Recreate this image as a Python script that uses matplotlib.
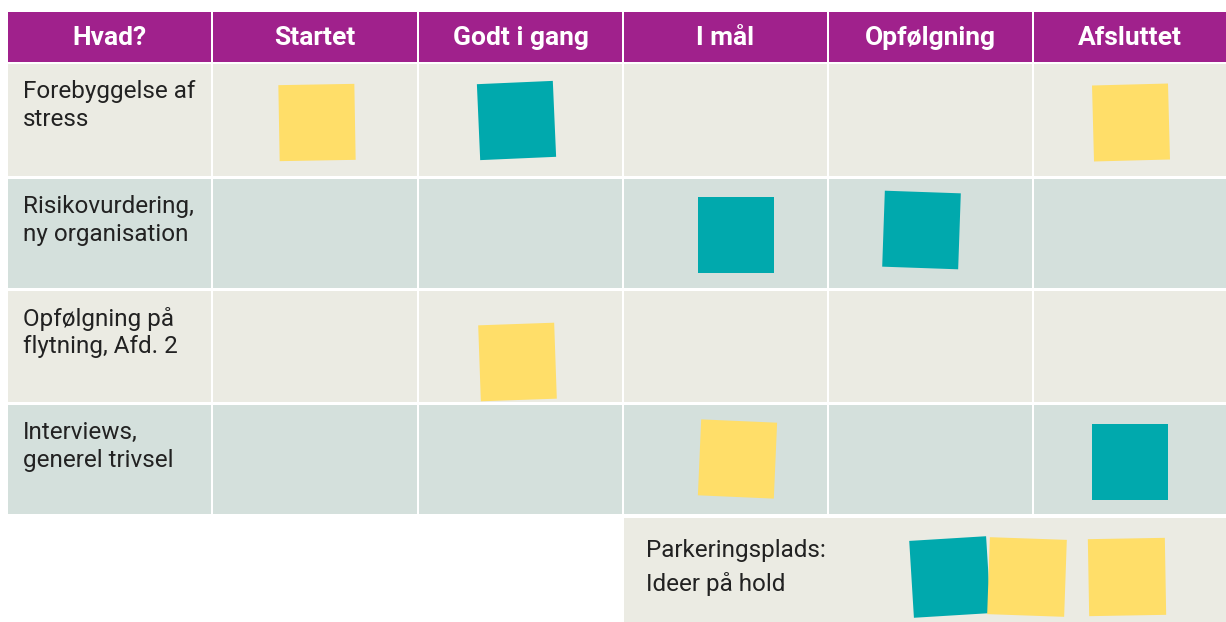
import matplotlib
matplotlib.use("Agg")
import matplotlib.pyplot as plt
from matplotlib.patches import Rectangle
import matplotlib.transforms as mtransforms

# table content
columns = ["Hvad?", "Startet", "Godt i gang", "I mål", "Opfølgning", "Afsluttet"]
tasks = ["Forebyggelse af\nstress", "Risikovurdering,\nny organisation",
         "Opfølgning på\nflytning, Afd. 2", "Interviews,\ngenerel trivsel"]
parking_label = "Parkeringsplads:\nIdeer på hold"

# notes: (row, column, colour); tilt >0 = clockwise on screen (y axis is flipped)
note_rows = [0, 0, 0, 1, 1, 2, 3, 3]
note_cols = [1, 2, 5, 3, 4, 2, 3, 5]
note_kind = ["y", "t", "y", "t", "t", "y", "y", "t"]
note_tilt = [-1, -2.5, -1.5, 0, 2, -2, 2.5, 0]
note_shift = [(2, 2), (-4, 0), (1, 2), (10, 1), (-9, -4), (-3, 15), (12, -1), (0, 2)]
parking_kind = ["t", "y", "y"]
parking_tilt = [-3.5, 2, -1]

PURPLE = "#a0218c"
LIGHT = "#ebebe3"
GREEN = "#d4e0dc"
TEAL = "#00a9ad"
YELLOW = "#ffde69"
colors = {"t": TEAL, "y": YELLOW}

fig = plt.figure(figsize=(12.26, 6.22), dpi=100)
ax = fig.add_axes([0, 0, 1, 1])
ax.set_xlim(0, 1226)
ax.set_ylim(622, 0)
ax.axis("off")

col_x = [8, 213, 419, 624, 829, 1034, 1228]
row_y = [64, 179, 291, 405, 517]
head_top, head_bot = 12, 62
gap = 2

# header
for i, name in enumerate(columns):
    x0, x1 = col_x[i], col_x[i + 1] - gap
    ax.add_patch(Rectangle((x0, head_top), x1 - x0, head_bot - head_top, color=PURPLE, lw=0))
    ax.text((x0 + x1) / 2, (head_top + head_bot) / 2 + 1, name, color="white",
            fontsize=19, fontweight="bold", family="Roboto", ha="center", va="center")

# body rows
for r, task in enumerate(tasks):
    y0, y1 = row_y[r], row_y[r + 1] - gap - 1
    fill = LIGHT if r % 2 == 0 else GREEN
    for i in range(len(columns)):
        x0, x1 = col_x[i], col_x[i + 1] - gap
        ax.add_patch(Rectangle((x0, y0), x1 - x0, y1 - y0, color=fill, lw=0))
    ax.text(23, y0 + 16, task, color="#222222", fontsize=17.5, family="Roboto",
            ha="left", va="top", linespacing=1.25)


def sticky(cx, cy, kind, tilt, size=76):
    rect = Rectangle((cx - size / 2, cy - size / 2), size, size, color=colors[kind], lw=0)
    rot = mtransforms.Affine2D().rotate_deg_around(cx, cy, tilt)
    rect.set_transform(rot + ax.transData)
    ax.add_patch(rect)


for r, c, k, t, (dx, dy) in zip(note_rows, note_cols, note_kind, note_tilt, note_shift):
    cx = (col_x[c] + col_x[c + 1] - gap) / 2 + dx
    cy = (row_y[r] + row_y[r + 1] - gap) / 2 + dy
    sticky(cx, cy, k, t)

# parking area
px0, py0 = col_x[3], 518
ax.add_patch(Rectangle((px0, py0), 1226 - px0, 622 - py0, color=LIGHT, lw=0))
ax.text(646, 539, parking_label, color="#222222", fontsize=17.5, family="Roboto",
        ha="left", va="top", linespacing=1.5)
parking_x = [950, 1027, 1127]
for x, k, t in zip(parking_x, parking_kind, parking_tilt):
    sticky(x, 577, k, t, size=77)

fig.savefig("out.png", dpi=100)
